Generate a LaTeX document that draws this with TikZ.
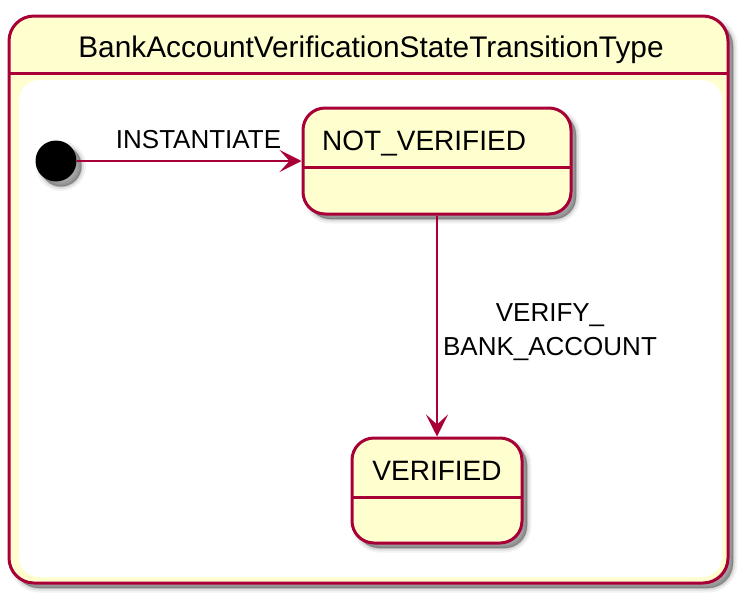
\documentclass[tikz,border=0pt]{standalone}
\usepackage{fontspec}
\setmainfont{Liberation Sans}
\usetikzlibrary{arrows.meta,shadows}
\definecolor{pborder}{HTML}{A80036}
\definecolor{pfill}{HTML}{FEFECE}
\begin{document}
\begin{tikzpicture}[x=1pt,y=-1pt,
  shad/.style={
    drop shadow={shadow xshift=5pt,shadow yshift=-5pt,fill=black,draw=black,line width=9pt,opacity=0.05},
    drop shadow={shadow xshift=5pt,shadow yshift=-5pt,fill=black,draw=black,line width=5pt,opacity=0.08},
    drop shadow={shadow xshift=5pt,shadow yshift=-5pt,fill=black,draw=black,line width=1.5pt,opacity=0.12},
    drop shadow={shadow xshift=5pt,shadow yshift=-5pt,fill=black,opacity=0.15}},
  statebox/.style={draw=pborder,fill=pfill,line width=3pt,rounded corners=22pt,shad,inner sep=0pt},
  sepline/.style={draw=pborder,line width=3pt},
  trans/.style={draw=pborder,line width=1.8pt,-{Stealth[length=22pt,width=22pt,inset=10pt]}},
  lbl/.style={font=\fontsize{26}{34}\selectfont,inner sep=0pt},
  sname/.style={font=\fontsize{28}{34}\selectfont,inner sep=0pt}]
\useasboundingbox (0,0) rectangle (752,605);
% outer composite state
\node[statebox, minimum width=719pt, minimum height=567pt, rounded corners=25pt] (outer) at (368.5,299.5) {};
\fill[white, rounded corners=20pt] (19,80) rectangle (722,577);
\draw[sepline] (9,73) -- (728,73);
\node[sname, anchor=base, font=\fontsize{29.8}{34}\selectfont] (title) at (371,57) {BankAccountVerificationStateTransitionType};
% initial state
\node[circle, fill=black, minimum size=41pt, inner sep=0pt, shad] (init) at (56,161) {};
% NOT_VERIFIED
\node[statebox, minimum width=268pt, minimum height=106pt] (nv) at (437,161) {};
\node[sname, anchor=base west] (nvt) at (322,150) {NOT\_VERIFIED};
\draw[sepline] (303,167) -- (571,167);
% VERIFIED
\node[statebox, minimum width=170pt, minimum height=105pt] (ver) at (437,490.5) {};
\node[sname, anchor=base] (vert) at (437,480) {VERIFIED};
\draw[sepline] (352,497) -- (522,497);
% transitions
\draw[trans] (init) -- (nv);
\draw[trans] (nv) -- (ver);
\node[lbl, anchor=base] (l1) at (198.5,148) {INSTANTIATE};
\node[lbl, anchor=base] (l2) at (550,321) {VERIFY\_};
\node[lbl, anchor=base] (l3) at (550,355) {BANK\_ACCOUNT};
\end{tikzpicture}
\end{document}
